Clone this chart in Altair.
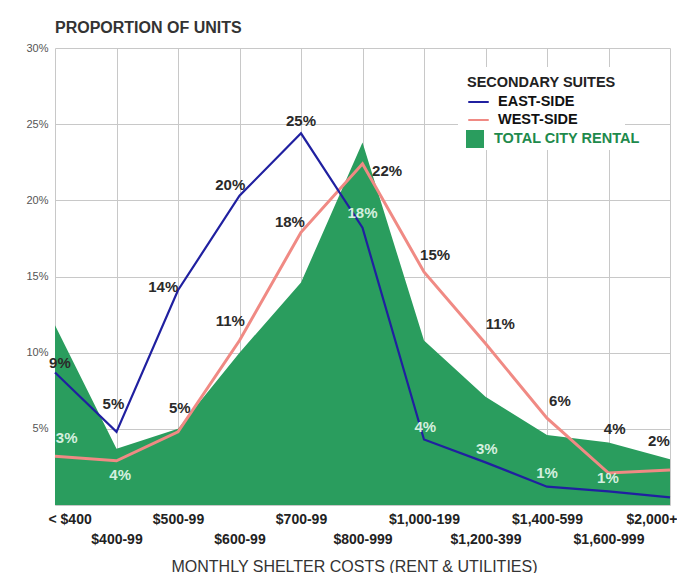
import json
import altair as alt
import pandas as pd

categories = ["< $400", "$400-99", "$500-99", "$600-99", "$700-99", "$800-999",
              "$1,000-199", "$1,200-399", "$1,400-599", "$1,600-999", "$2,000+"]
east_side = [8.7, 4.8, 14.1, 20.3, 24.4, 18.2, 4.3, 2.8, 1.2, 0.9, 0.5]
west_side = [3.2, 2.9, 4.8, 10.8, 17.9, 22.4, 15.3, 10.6, 5.7, 2.1, 2.3]
total_city = [11.8, 3.7, 5.0, 10.0, 14.6, 23.8, 10.8, 7.1, 4.6, 4.1, 3.0]

# value annotations (category position, value height, text)
label_pos = [4.0, 2.85, 3.82, 1.76, 2.85, 0.08, 0.95, 2.03, 0.19, 1.06, 5.4,
             5.0, 6.18, 7.24, 8.21, 9.1, 9.82, 6.02, 7.02, 8.0, 8.99]
label_val = [25.2, 21.0, 18.6, 14.3, 12.1, 9.3, 6.6, 6.4, 4.4, 2.0, 21.9,
             19.2, 16.4, 11.9, 6.8, 5.0, 4.2, 5.1, 3.7, 2.1, 1.8]
label_text = ["25%", "20%", "18%", "14%", "11%", "9%", "5%", "5%", "3%", "4%", "22%",
              "18%", "15%", "11%", "6%", "4%", "2%", "4%", "3%", "1%", "1%"]
label_inside = [False, False, False, False, False, False, False, False, True, True, False,
                True, False, False, False, False, False, True, True, True, True]

FONT = "Liberation Sans"

idx = list(range(len(categories)))
lines_df = pd.DataFrame({
    "idx": idx * 2,
    "value": east_side + west_side,
    "series": ["EAST-SIDE"] * len(idx) + ["WEST-SIDE"] * len(idx),
})
area_df = pd.DataFrame({"idx": idx, "value": total_city,
                        "series": ["TOTAL CITY RENTAL"] * len(idx)})
labels_df = pd.DataFrame({"idx": label_pos, "value": label_val,
                          "text": label_text, "inside": label_inside})

cat_arr = json.dumps(categories)
x_label_expr = (f"datum.value % 2 == 1 ? ['', {cat_arr}[datum.value]] "
                f": {cat_arr}[datum.value]")

x_enc = alt.X("idx:Q",
              scale=alt.Scale(domain=[0, 10], nice=False, zero=False),
              axis=alt.Axis(values=idx, labelExpr=x_label_expr, grid=True,
                            ticks=False, domain=False, labelOverlap=False,
                            labelFlush=True, labelFlushOffset=7, labelBound=False,
                            labelFontSize=14, labelFontWeight="bold",
                            labelColor="#222", labelPadding=7, labelLineHeight=20,
                            title="MONTHLY SHELTER COSTS (RENT & UTILITIES)",
                            titleFontSize=16, titleFontWeight="normal",
                            titleColor="#333", titlePadding=12, titleX=299,
                            titleAlign="center"))
y_enc = alt.Y("value:Q",
              scale=alt.Scale(domain=[0, 30], nice=False),
              axis=alt.Axis(values=[0, 5, 10, 15, 20, 25, 30],
                            labelExpr="datum.value == 0 ? '' : datum.value + '%'",
                            grid=True, ticks=False, domain=False,
                            labelFontSize=11, labelColor="#555", labelPadding=7,
                            title=None))

fill_legend = alt.Legend(title=None, orient="none", legendX=409, legendY=80,
                         symbolType="square", symbolSize=324, symbolStrokeWidth=0,
                         labelFontSize=14.5, labelFontWeight="bold",
                         labelColor="#1e8a4c", labelFont=FONT,
                         fillColor="white", padding=2, labelOffset=10, zindex=2)
stroke_legend = alt.Legend(title="SECONDARY SUITES", orient="none",
                           legendX=403, legendY=19,
                           symbolType="stroke", symbolSize=420, symbolStrokeWidth=2,
                           labelFontSize=14.5, labelFontWeight="bold", labelColor="#111",
                           labelFont=FONT, titleFont=FONT,
                           titleFontSize=14.5, titleFontWeight="bold", titleColor="#222",
                           fillColor="white", padding=9, rowPadding=0, labelOffset=8,
                           titlePadding=0, zindex=1)

area = alt.Chart(area_df).mark_area(opacity=1, line=False).encode(
    x=x_enc, y=y_enc,
    fill=alt.Fill("series:N", scale=alt.Scale(domain=["TOTAL CITY RENTAL"],
                                               range=["#2a9d5e"]),
                  legend=fill_legend),
)

stroke_scale = alt.Scale(domain=["EAST-SIDE", "WEST-SIDE"], range=["#2020a0", "#f08a84"])

west_line = alt.Chart(lines_df).transform_filter(
    alt.datum.series == "WEST-SIDE").mark_line(strokeWidth=3).encode(
    x=x_enc, y=y_enc,
    stroke=alt.Stroke("series:N", scale=stroke_scale, legend=stroke_legend),
)
east_line = alt.Chart(lines_df).transform_filter(
    alt.datum.series == "EAST-SIDE").mark_line(strokeWidth=2.2).encode(
    x=x_enc, y=y_enc,
    stroke=alt.Stroke("series:N", scale=stroke_scale, legend=stroke_legend),
)

labels = alt.Chart(labels_df).mark_text(fontSize=15, font=FONT, fontWeight="bold",
                                        align="center", baseline="middle").encode(
    x=x_enc, y=y_enc, text="text:N",
    color=alt.condition("datum.inside", alt.value("#d4efdf"), alt.value("#2a2a2a")),
)

chart = alt.layer(area, west_line, east_line, labels).properties(
    width=615, height=457,
    title=alt.Title("PROPORTION OF UNITS", anchor="start", frame="group",
                    fontSize=16, fontWeight="bold", color="#333", font=FONT, offset=6),
    padding={"left": 47, "top": 40, "right": 7, "bottom": 68},
    autosize=alt.AutoSizeParams(type="none"),
).configure(font=FONT).configure_view(stroke=None).configure_axis(
    gridColor="#c8c8c8", gridWidth=1, labelFont=FONT, titleFont=FONT
)

chart.save("out.html", embed_options={"renderer": "svg", "actions": False})
